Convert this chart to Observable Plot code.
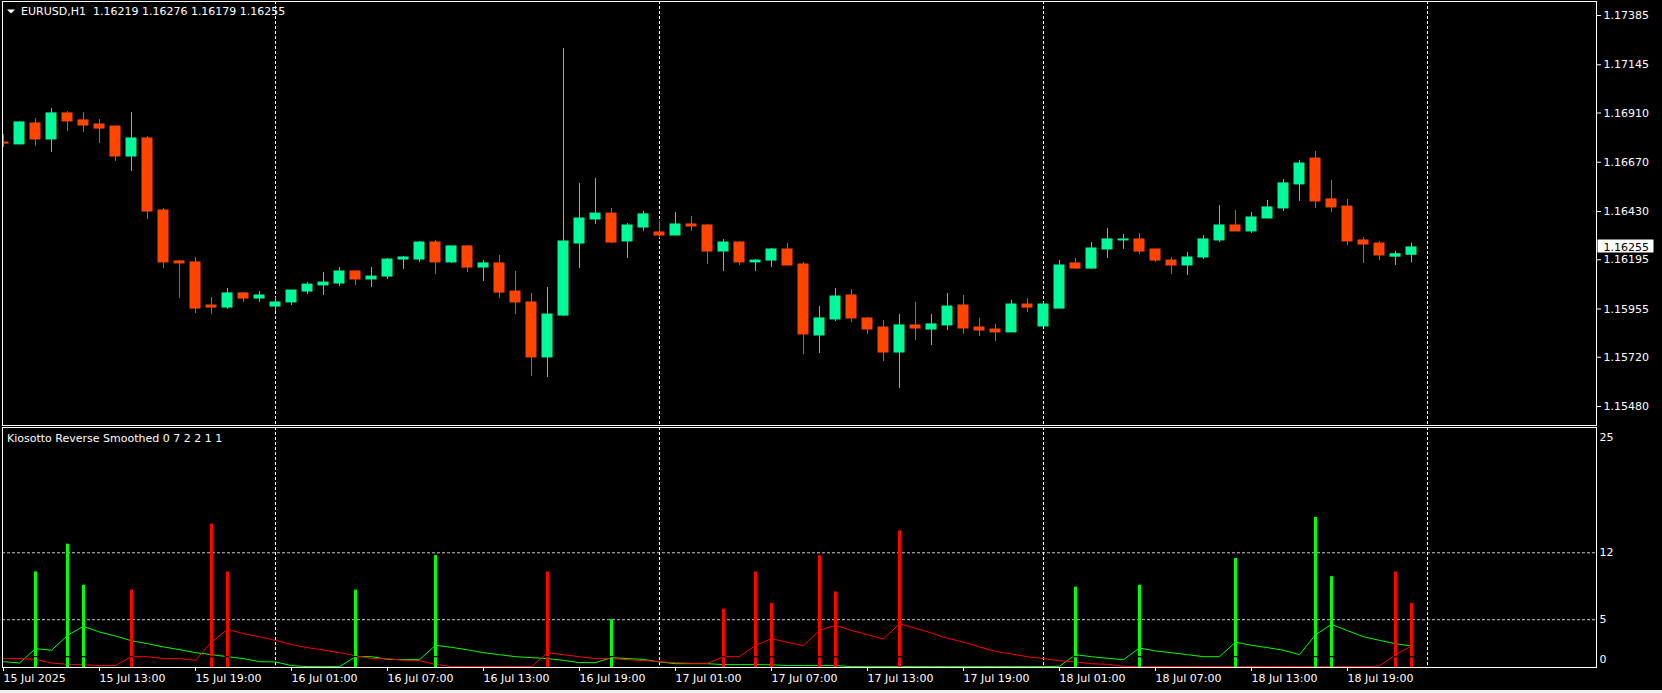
<!DOCTYPE html>
<html>
<head>
<meta charset="utf-8">
<script src="https://cdn.jsdelivr.net/npm/d3@7"></script>
<script src="https://cdn.jsdelivr.net/npm/@observablehq/plot@0.6"></script>
<style>
html, body { margin: 0; padding: 0; background: #000; width: 1662px; height: 693px; overflow: hidden; }
#wrap { position: relative; width: 1662px; height: 693px; }
#wrap svg { position: absolute; left: 0; top: 0; }
#statusbar { position: absolute; left: 0; top: 690px; width: 1662px; height: 3px; background: #f0f0f0; }
</style>
</head>
<body>
<div id="wrap"></div>
<div id="statusbar"></div>
<script>
// ---------------- data ----------------
const symbolTitle = "EURUSD,H1";
const headerValues = ["1.16219", "1.16276", "1.16179", "1.16255"];
const indicatorTitle = "Kiosotto Reverse Smoothed 0 7 2 2 1 1";
const firstBarTime = "2025-07-15T07:00:00Z";

const open = [
1.16766,1.16757,1.16859,1.16781,1.16908,1.16874,1.16854,1.16844,1.16698,1.16786,
1.16435,1.16187,1.16182,1.15972,1.15962,1.16031,1.16006,1.15967,1.15987,1.16040,
1.16070,1.16079,1.16138,1.16099,1.16113,1.16196,1.16196,1.16279,1.16182,1.16260,
1.16157,1.16177,1.16040,1.15987,1.15719,1.15923,1.16274,1.16391,1.16420,1.16284,
1.16352,1.16328,1.16313,1.16367,1.16362,1.16235,1.16279,1.16182,1.16191,1.16245,
1.16172,1.15826,1.15904,1.16021,1.15909,1.15865,1.15743,1.15875,1.15855,1.15875,
1.15972,1.15865,1.15855,1.15841,1.15977,1.15870,1.15957,1.16177,1.16152,1.16245,
1.16289,1.16294,1.16245,1.16191,1.16167,1.16206,1.16289,1.16362,1.16333,1.16396,
1.16445,1.16562,1.16688,1.16489,1.16454,1.16289,1.16274,1.16210,1.16219];

const high = [
1.16805,1.16869,1.16883,1.16932,1.16917,1.16912,1.16878,1.16844,1.16912,1.16795,
1.16445,1.16191,1.16206,1.16011,1.16055,1.16035,1.16040,1.16011,1.16045,1.16084,
1.16133,1.16157,1.16138,1.16157,1.16201,1.16211,1.16284,1.16289,1.16260,1.16264,
1.16191,1.16216,1.16138,1.16031,1.16060,1.17224,1.16567,1.16591,1.16445,1.16372,
1.16430,1.16386,1.16425,1.16406,1.16367,1.16294,1.16284,1.16196,1.16250,1.16274,
1.16182,1.15967,1.16055,1.16050,1.15914,1.15899,1.15928,1.15987,1.15928,1.16031,
1.16021,1.15909,1.15880,1.15997,1.16006,1.15987,1.16191,1.16201,1.16279,1.16347,
1.16318,1.16323,1.16245,1.16206,1.16230,1.16313,1.16459,1.16435,1.16425,1.16484,
1.16586,1.16679,1.16723,1.16581,1.16489,1.16303,1.16284,1.16235,1.16276];

const low = [
1.16742,1.16755,1.16747,1.16718,1.16820,1.16815,1.16761,1.16674,1.16625,1.16391,
1.16152,1.16006,1.15933,1.15928,1.15953,1.15987,1.15987,1.15943,1.15972,1.16026,
1.16021,1.16065,1.16070,1.16060,1.16099,1.16148,1.16182,1.16123,1.16177,1.16133,
1.16089,1.16006,1.15928,1.15626,1.15621,1.15919,1.16152,1.16367,1.16274,1.16201,
1.16333,1.16298,1.16313,1.16333,1.16172,1.16138,1.16167,1.16138,1.16157,1.16167,
1.15733,1.15738,1.15894,1.15889,1.15831,1.15699,1.15568,1.15802,1.15777,1.15850,
1.15831,1.15821,1.15797,1.15841,1.15938,1.15870,1.15957,1.16148,1.16148,1.16201,
1.16245,1.16221,1.16182,1.16123,1.16118,1.16196,1.16279,1.16333,1.16323,1.16396,
1.16430,1.16479,1.16445,1.16425,1.16264,1.16177,1.16191,1.16167,1.16179];

const close = [
1.16761,1.16864,1.16781,1.16908,1.16869,1.16849,1.16834,1.16698,1.16786,1.16430,
1.16182,1.16177,1.15957,1.15962,1.16031,1.16006,1.16021,1.15987,1.16045,1.16074,
1.16084,1.16138,1.16099,1.16113,1.16196,1.16206,1.16279,1.16182,1.16260,1.16157,
1.16177,1.16035,1.15987,1.15719,1.15928,1.16284,1.16396,1.16420,1.16279,1.16362,
1.16416,1.16313,1.16367,1.16357,1.16235,1.16279,1.16182,1.16191,1.16245,1.16167,
1.15831,1.15909,1.16016,1.15909,1.15855,1.15743,1.15875,1.15860,1.15880,1.15967,
1.15860,1.15850,1.15841,1.15977,1.15962,1.15977,1.16167,1.16152,1.16250,1.16294,
1.16294,1.16235,1.16191,1.16167,1.16206,1.16294,1.16362,1.16333,1.16401,1.16450,
1.16567,1.16664,1.16479,1.16450,1.16284,1.16269,1.16216,1.16222,1.16255];

const priceTicks = [1.17385, 1.17145, 1.16910, 1.16670, 1.16430, 1.16195, 1.15955, 1.15720, 1.15480];
const priceDomain = [1.15480, 1.17385];

const xTickBars = [0, 6, 12, 18, 24, 30, 36, 42, 48, 54, 60, 66, 72, 78, 84];
const xTickLabels = ["15 Jul 2025", "15 Jul 13:00", "15 Jul 19:00", "16 Jul 01:00", "16 Jul 07:00",
  "16 Jul 13:00", "16 Jul 19:00", "17 Jul 01:00", "17 Jul 07:00", "17 Jul 13:00",
  "17 Jul 19:00", "18 Jul 01:00", "18 Jul 07:00", "18 Jul 13:00", "18 Jul 19:00"];
const daySeparators = ["2025-07-16T00:00:00Z", "2025-07-17T00:00:00Z", "2025-07-18T00:00:00Z", "2025-07-19T00:00:00Z"];

// Kiosotto indicator
const bullHistBars   = [2, 4, 5, 22, 27, 38, 67, 71, 77, 82, 83];
const bullHistValues = [10.0, 12.9, 8.6, 8.1, 11.7, 5.0, 8.4, 8.6, 11.4, 15.7, 9.5];
const bearHistBars   = [8, 13, 14, 34, 45, 47, 48, 51, 52, 56, 87, 88];
const bearHistValues = [8.1, 15.0, 10.0, 10.0, 6.1, 10.0, 6.7, 11.7, 7.9, 14.3, 10.0, 6.7];

const bullLine = [
0.61,0.47,1.97,1.80,3.36,4.30,3.71,3.29,2.80,2.49,
2.15,1.87,1.55,1.34,1.13,0.93,0.61,0.58,0.20,0.09,
0.09,0.09,1.13,1.13,0.85,0.82,0.82,2.32,2.11,1.85,
1.55,1.34,1.13,1.03,0.93,0.75,0.51,0.51,1.03,0.93,
0.85,0.58,0.40,0.40,0.40,0.30,0.30,0.30,0.28,0.20,
0.20,0.20,0.20,0.09,0.09,0.09,0.09,0.09,0.09,0.09,
0.09,0.09,0.09,0.09,0.09,0.09,0.13,1.34,1.13,0.96,
0.82,2.04,1.73,1.55,1.34,1.13,1.13,2.66,2.32,2.08,
1.80,1.34,3.43,4.51,3.85,3.22,2.84,2.49,2.25];

const bearLine = [
0.93,0.93,0.86,0.47,0.33,0.30,0.20,0.20,1.13,1.13,
0.93,0.93,0.75,2.67,3.99,3.54,3.22,2.84,2.39,2.08,
1.83,1.55,1.24,0.93,0.93,0.75,0.72,0.33,0.09,0.09,
0.09,0.09,0.09,0.09,1.55,1.34,1.13,0.93,0.93,0.82,
0.72,0.61,0.51,0.44,0.44,1.13,1.13,2.32,3.02,2.63,
2.28,3.88,4.41,3.88,3.43,2.98,4.58,4.10,3.61,3.05,
2.67,2.15,1.69,1.41,1.13,0.93,0.72,0.58,0.40,0.33,
0.13,0.09,0.09,0.09,0.09,0.09,0.09,0.09,0.09,0.09,
0.09,0.09,0.09,0.09,0.09,0.09,0.16,1.34,2.25];

const indicatorLevels = [12, 5];
const indicatorRange = [0, 25];
const histGapLevel = 1.14;

// ---------------- styles ----------------
const bullColor = "#00fa9a", bearColor = "#ff4500";
const indBull = "#00ff00", indBear = "#ff0000";
const W = 1662, H = 693;
const HOUR = 3600e3;

// ---------------- build ----------------
const t0 = new Date(firstBarTime);
const times = open.map((_, i) => new Date(+t0 + i * HOUR));
const candles = open.map((o, i) => ({time: times[i], open: o, high: high[i], low: low[i], close: close[i]}));
const candleColor = d => d.close >= d.open ? bullColor : bearColor;
const bodyHalf = 0.34375 * HOUR;
const xTickTimes = xTickBars.map(k => times[k]);
const tickLabelMap = new Map(xTickTimes.map((t, i) => [+t, xTickLabels[i]]));
const seps = daySeparators.map(s => new Date(s));
const rows = times.map((t, i) => ({time: t, bull: bullLine[i], bear: bearLine[i]}));
const bullHist = bullHistBars.map((k, i) => ({time: times[k], value: bullHistValues[i]}));
const bearHist = bearHistBars.map((k, i) => ({time: times[k], value: bearHistValues[i]}));
const allHist = bullHist.concat(bearHist);

const xScale = {type: "utc", domain: [times[0], times[times.length - 1]], range: [3, 3 + 16 * (times.length - 1)]};
const baseStyle = {background: "transparent", color: "white", fontFamily: "'DejaVu Sans', sans-serif", fontSize: "11px", overflow: "visible"};

const plotA = Plot.plot({
  width: W, height: H,
  marginLeft: 2, marginRight: 66, marginTop: 1, marginBottom: 268,
  style: baseStyle,
  x: {...xScale, axis: null},
  y: {domain: priceDomain, range: [406, 15]},
  color: {type: "identity"},
  marks: [
    Plot.ruleX(seps, {stroke: "white", strokeDasharray: "3,2"}),
    Plot.ruleX(candles, {x: "time", y1: "low", y2: "high", stroke: candleColor, clip: true}),
    Plot.rect(candles, {
      x1: d => new Date(+d.time - bodyHalf), x2: d => new Date(+d.time + bodyHalf),
      y1: "open", y2: "close", fill: candleColor, insetTop: -0.5, insetBottom: -0.5, clip: true
    }),
    Plot.frame({stroke: "white"}),
    Plot.axisY({anchor: "right", ticks: priceTicks, tickFormat: d => d.toFixed(5), tickSize: 4, tickPadding: 3}),
    Plot.text([symbolTitle + "\u00a0\u00a0" + headerValues.join(" ")], {
      frameAnchor: "top-left", textAnchor: "start", lineAnchor: "middle", dx: 18.5, dy: 9.5, fill: "white"
    })
  ]
});

const plotB = Plot.plot({
  width: W, height: H,
  marginLeft: 2, marginRight: 66, marginTop: 427, marginBottom: 26,
  style: baseStyle,
  x: xScale,
  y: {domain: indicatorRange, range: [667, 428]},
  color: {type: "identity"},
  marks: [
    Plot.ruleY(indicatorLevels, {stroke: "#c8c8c8", strokeDasharray: "3,2"}),
    Plot.ruleX(seps, {stroke: "white", strokeDasharray: "3,2"}),
    Plot.line(rows, {x: "time", y: "bull", stroke: indBull, strokeWidth: 1}),
    Plot.line(rows, {x: "time", y: "bear", stroke: indBear, strokeWidth: 1}),
    Plot.ruleX(bullHist, {x: "time", y1: 0, y2: "value", stroke: indBull, strokeWidth: 3}),
    Plot.ruleX(bearHist, {x: "time", y1: 0, y2: "value", stroke: indBear, strokeWidth: 3}),
    Plot.ruleY(allHist, {y: histGapLevel, x1: d => new Date(+d.time - 0.15 * HOUR), x2: d => new Date(+d.time + 0.15 * HOUR), stroke: "black", strokeWidth: 1.2}),
    Plot.frame({stroke: "white"}),
    Plot.axisX({ticks: xTickTimes, tickFormat: d => tickLabelMap.get(+d), tickSize: 4, tickPadding: 3, textAnchor: "start"}),
    Plot.axisY({anchor: "right", ticks: indicatorLevels, tickSize: 0, tickPadding: 3}),
    Plot.text([indicatorRange[1]], {y: d => d, frameAnchor: "right", textAnchor: "start", dx: 3, dy: 9, fill: "white"}),
    Plot.text([indicatorRange[0]], {y: d => d, frameAnchor: "right", textAnchor: "start", dx: 3, dy: -8, fill: "white"}),
    Plot.text([indicatorTitle], {frameAnchor: "top-left", textAnchor: "start", lineAnchor: "middle", dx: 4.5, dy: 10.5, fill: "white"})
  ]
});

const wrap = document.getElementById("wrap");
wrap.appendChild(plotA);
wrap.appendChild(plotB);

// current price marker and header triangle
const svgA = d3.select(plotA);
const lastClose = close[close.length - 1];
const yPrice = plotA.scale("y").apply(lastClose) + 0.5;
svgA.append("rect").attr("x", 1597.5).attr("y", Math.round(yPrice) - 7.5).attr("width", 56).attr("height", 13).attr("fill", "white");
svgA.append("text").attr("x", 1603.5).attr("y", yPrice).attr("dy", "0.32em").attr("fill", "black")
  .attr("text-anchor", "start")
  .style("font-family", "'DejaVu Sans', sans-serif").style("font-size", "11px").text(lastClose.toFixed(5));
svgA.append("path").attr("d", "M7,9.5L15,9.5L11,13.5Z").attr("fill", "white");
</script>
</body>
</html>
